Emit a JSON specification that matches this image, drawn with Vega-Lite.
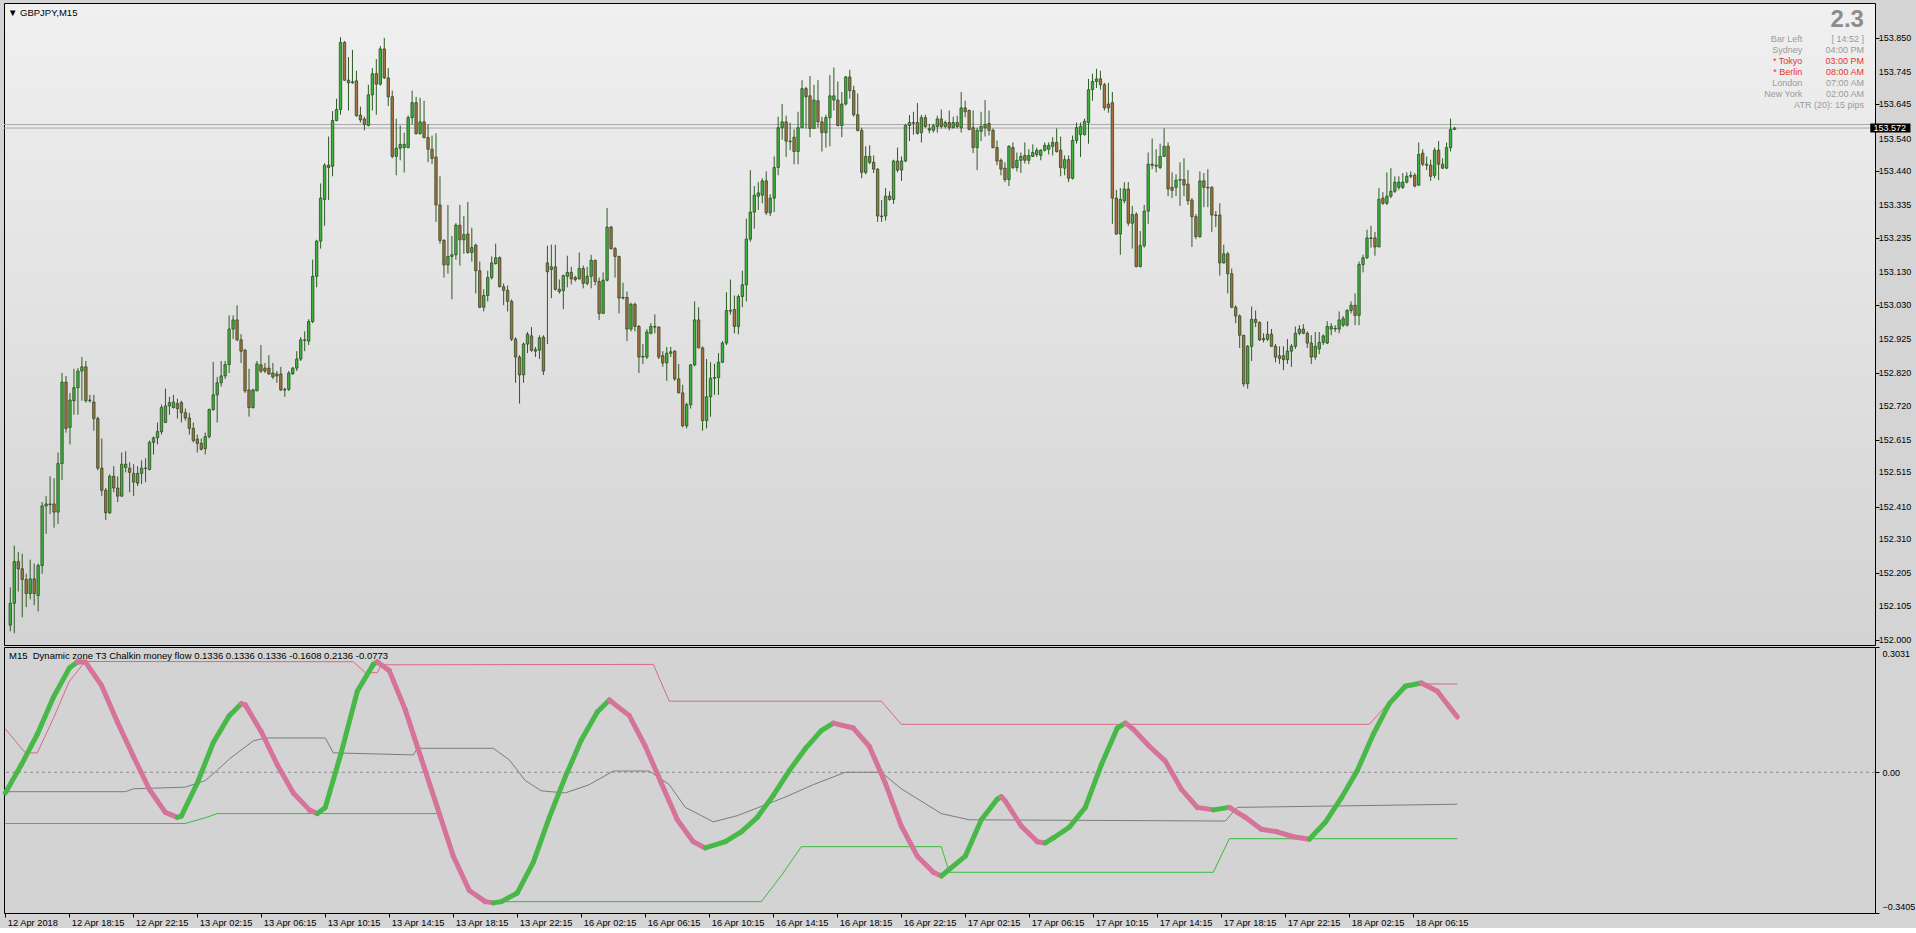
{
  "$schema": "https://vega.github.io/schema/vega-lite/v6.json",
  "padding": {"left": 2, "top": 2, "right": 0, "bottom": 0},
  "background": "#d4d4d4",
  "spacing": 2,
  "bounds": "flush",
  "config": {
    "font": "Liberation Sans",
    "view": {"stroke": "#000000", "strokeWidth": 1},
    "axis": {"labelFont": "Liberation Sans", "labelFontSize": 9, "labelColor": "#000000", "tickColor": "#000000", "domain": false, "grid": false, "tickSize": 4, "labelPadding": 3, "title": null, "labelOverlap": false},
    "title": {"font": "Liberation Sans", "fontSize": 9.5, "fontWeight": "normal", "color": "#000000", "anchor": "start", "frame": "group"}
  },
  "datasets": {
    "candles": [
{"i":0,"o":152.046,"h":152.162,"l":152.027,"c":152.113},
{"i":1,"o":152.113,"h":152.290,"l":152.021,"c":152.241},
{"i":2,"o":152.241,"h":152.271,"l":152.149,"c":152.219},
{"i":3,"o":152.219,"h":152.265,"l":152.070,"c":152.186},
{"i":4,"o":152.186,"h":152.204,"l":152.101,"c":152.143},
{"i":5,"o":152.143,"h":152.247,"l":152.125,"c":152.188},
{"i":6,"o":152.188,"h":152.235,"l":152.107,"c":152.143},
{"i":7,"o":152.137,"h":152.235,"l":152.088,"c":152.229},
{"i":8,"o":152.229,"h":152.424,"l":152.204,"c":152.412},
{"i":9,"o":152.412,"h":152.442,"l":152.326,"c":152.418},
{"i":10,"o":152.418,"h":152.503,"l":152.387,"c":152.416},
{"i":11,"o":152.418,"h":152.497,"l":152.345,"c":152.393},
{"i":12,"o":152.393,"h":152.576,"l":152.357,"c":152.542},
{"i":13,"o":152.542,"h":152.820,"l":152.491,"c":152.792},
{"i":14,"o":152.792,"h":152.811,"l":152.637,"c":152.650},
{"i":15,"o":152.653,"h":152.759,"l":152.601,"c":152.737},
{"i":16,"o":152.735,"h":152.833,"l":152.692,"c":152.775},
{"i":17,"o":152.775,"h":152.835,"l":152.692,"c":152.826},
{"i":18,"o":152.826,"h":152.869,"l":152.735,"c":152.839},
{"i":19,"o":152.839,"h":152.857,"l":152.729,"c":152.735},
{"i":20,"o":152.735,"h":152.753,"l":152.729,"c":152.737},
{"i":21,"o":152.731,"h":152.753,"l":152.643,"c":152.680},
{"i":22,"o":152.680,"h":152.686,"l":152.521,"c":152.528},
{"i":23,"o":152.528,"h":152.619,"l":152.442,"c":152.460},
{"i":24,"o":152.460,"h":152.467,"l":152.369,"c":152.391},
{"i":25,"o":152.391,"h":152.509,"l":152.387,"c":152.503},
{"i":26,"o":152.503,"h":152.534,"l":152.454,"c":152.467},
{"i":27,"o":152.467,"h":152.503,"l":152.424,"c":152.442},
{"i":28,"o":152.442,"h":152.576,"l":152.440,"c":152.540},
{"i":29,"o":152.530,"h":152.580,"l":152.515,"c":152.540},
{"i":30,"o":152.528,"h":152.546,"l":152.454,"c":152.515},
{"i":31,"o":152.512,"h":152.540,"l":152.442,"c":152.485},
{"i":32,"o":152.482,"h":152.534,"l":152.473,"c":152.512},
{"i":33,"o":152.512,"h":152.552,"l":152.479,"c":152.528},
{"i":34,"o":152.528,"h":152.558,"l":152.485,"c":152.527},
{"i":35,"o":152.524,"h":152.613,"l":152.521,"c":152.607},
{"i":36,"o":152.607,"h":152.625,"l":152.570,"c":152.621},
{"i":37,"o":152.621,"h":152.668,"l":152.601,"c":152.640},
{"i":38,"o":152.640,"h":152.723,"l":152.631,"c":152.714},
{"i":39,"o":152.668,"h":152.772,"l":152.668,"c":152.719},
{"i":40,"o":152.719,"h":152.747,"l":152.692,"c":152.729},
{"i":41,"o":152.714,"h":152.753,"l":152.711,"c":152.731},
{"i":42,"o":152.726,"h":152.741,"l":152.680,"c":152.711},
{"i":43,"o":152.729,"h":152.735,"l":152.668,"c":152.698},
{"i":44,"o":152.698,"h":152.711,"l":152.674,"c":152.682},
{"i":45,"o":152.682,"h":152.698,"l":152.631,"c":152.650},
{"i":46,"o":152.650,"h":152.668,"l":152.607,"c":152.613},
{"i":47,"o":152.617,"h":152.631,"l":152.576,"c":152.604},
{"i":48,"o":152.604,"h":152.619,"l":152.582,"c":152.586},
{"i":49,"o":152.588,"h":152.637,"l":152.570,"c":152.625},
{"i":50,"o":152.625,"h":152.711,"l":152.619,"c":152.708},
{"i":51,"o":152.708,"h":152.854,"l":152.704,"c":152.753},
{"i":52,"o":152.753,"h":152.808,"l":152.668,"c":152.790},
{"i":53,"o":152.790,"h":152.857,"l":152.778,"c":152.811},
{"i":54,"o":152.811,"h":152.857,"l":152.802,"c":152.846},
{"i":55,"o":152.846,"h":152.997,"l":152.820,"c":152.955},
{"i":56,"o":152.955,"h":152.997,"l":152.924,"c":152.983},
{"i":57,"o":152.983,"h":153.028,"l":152.918,"c":152.922},
{"i":58,"o":152.922,"h":152.939,"l":152.851,"c":152.887},
{"i":59,"o":152.890,"h":152.894,"l":152.759,"c":152.765},
{"i":60,"o":152.768,"h":152.833,"l":152.686,"c":152.714},
{"i":61,"o":152.714,"h":152.772,"l":152.711,"c":152.768},
{"i":62,"o":152.765,"h":152.857,"l":152.765,"c":152.848},
{"i":63,"o":152.845,"h":152.906,"l":152.820,"c":152.826},
{"i":64,"o":152.835,"h":152.851,"l":152.820,"c":152.826},
{"i":65,"o":152.835,"h":152.875,"l":152.814,"c":152.817},
{"i":66,"o":152.820,"h":152.851,"l":152.802,"c":152.808},
{"i":67,"o":152.817,"h":152.826,"l":152.790,"c":152.811},
{"i":68,"o":152.817,"h":152.839,"l":152.765,"c":152.768},
{"i":69,"o":152.768,"h":152.775,"l":152.747,"c":152.770},
{"i":70,"o":152.770,"h":152.826,"l":152.765,"c":152.820},
{"i":71,"o":152.818,"h":152.839,"l":152.814,"c":152.835},
{"i":72,"o":152.835,"h":152.887,"l":152.826,"c":152.863},
{"i":73,"o":152.863,"h":152.930,"l":152.857,"c":152.922},
{"i":74,"o":152.922,"h":152.948,"l":152.887,"c":152.920},
{"i":75,"o":152.918,"h":152.985,"l":152.906,"c":152.978},
{"i":76,"o":152.978,"h":153.168,"l":152.973,"c":153.117},
{"i":77,"o":153.117,"h":153.229,"l":153.083,"c":153.225},
{"i":78,"o":153.225,"h":153.402,"l":153.202,"c":153.357},
{"i":79,"o":153.353,"h":153.464,"l":153.272,"c":153.458},
{"i":80,"o":153.458,"h":153.546,"l":153.351,"c":153.451},
{"i":81,"o":153.455,"h":153.624,"l":153.424,"c":153.595},
{"i":82,"o":153.595,"h":153.662,"l":153.593,"c":153.629},
{"i":83,"o":153.629,"h":153.851,"l":153.613,"c":153.835},
{"i":84,"o":153.835,"h":153.839,"l":153.717,"c":153.719},
{"i":85,"o":153.719,"h":153.790,"l":153.626,"c":153.711},
{"i":86,"o":153.711,"h":153.812,"l":153.708,"c":153.714},
{"i":87,"o":153.717,"h":153.748,"l":153.607,"c":153.610},
{"i":88,"o":153.612,"h":153.638,"l":153.589,"c":153.597},
{"i":89,"o":153.600,"h":153.607,"l":153.565,"c":153.583},
{"i":90,"o":153.580,"h":153.705,"l":153.577,"c":153.674},
{"i":91,"o":153.674,"h":153.756,"l":153.626,"c":153.739},
{"i":92,"o":153.739,"h":153.784,"l":153.613,"c":153.707},
{"i":93,"o":153.707,"h":153.824,"l":153.702,"c":153.815},
{"i":94,"o":153.815,"h":153.849,"l":153.723,"c":153.726},
{"i":95,"o":153.726,"h":153.756,"l":153.640,"c":153.668},
{"i":96,"o":153.668,"h":153.687,"l":153.479,"c":153.485},
{"i":97,"o":153.485,"h":153.601,"l":153.427,"c":153.510},
{"i":98,"o":153.510,"h":153.580,"l":153.473,"c":153.522},
{"i":99,"o":153.512,"h":153.558,"l":153.436,"c":153.522},
{"i":100,"o":153.512,"h":153.611,"l":153.510,"c":153.604},
{"i":101,"o":153.604,"h":153.687,"l":153.583,"c":153.650},
{"i":102,"o":153.650,"h":153.668,"l":153.552,"c":153.555},
{"i":103,"o":153.555,"h":153.665,"l":153.552,"c":153.591},
{"i":104,"o":153.591,"h":153.656,"l":153.540,"c":153.543},
{"i":105,"o":153.543,"h":153.583,"l":153.467,"c":153.507},
{"i":106,"o":153.507,"h":153.549,"l":153.461,"c":153.479},
{"i":107,"o":153.483,"h":153.556,"l":153.284,"c":153.336},
{"i":108,"o":153.336,"h":153.424,"l":153.217,"c":153.227},
{"i":109,"o":153.227,"h":153.231,"l":153.113,"c":153.152},
{"i":110,"o":153.152,"h":153.336,"l":153.125,"c":153.178},
{"i":111,"o":153.178,"h":153.241,"l":153.046,"c":153.183},
{"i":112,"o":153.183,"h":153.280,"l":153.168,"c":153.274},
{"i":113,"o":153.274,"h":153.336,"l":153.150,"c":153.229},
{"i":114,"o":153.229,"h":153.302,"l":153.186,"c":153.245},
{"i":115,"o":153.247,"h":153.345,"l":153.186,"c":153.190},
{"i":116,"o":153.190,"h":153.266,"l":153.162,"c":153.205},
{"i":117,"o":153.213,"h":153.217,"l":153.064,"c":153.134},
{"i":118,"o":153.134,"h":153.162,"l":153.019,"c":153.022},
{"i":119,"o":153.022,"h":153.077,"l":153.009,"c":153.058},
{"i":120,"o":153.058,"h":153.134,"l":153.040,"c":153.113},
{"i":121,"o":153.113,"h":153.178,"l":153.107,"c":153.158},
{"i":122,"o":153.156,"h":153.217,"l":153.153,"c":153.174},
{"i":123,"o":153.174,"h":153.178,"l":153.083,"c":153.085},
{"i":124,"o":153.085,"h":153.095,"l":153.028,"c":153.074},
{"i":125,"o":153.074,"h":153.089,"l":153.009,"c":153.040},
{"i":126,"o":153.040,"h":153.046,"l":152.918,"c":152.924},
{"i":127,"o":152.924,"h":152.930,"l":152.790,"c":152.869},
{"i":128,"o":152.869,"h":152.875,"l":152.726,"c":152.814},
{"i":129,"o":152.814,"h":152.914,"l":152.790,"c":152.909},
{"i":130,"o":152.909,"h":152.946,"l":152.881,"c":152.939},
{"i":131,"o":152.934,"h":152.961,"l":152.885,"c":152.890},
{"i":132,"o":152.887,"h":152.900,"l":152.869,"c":152.892},
{"i":133,"o":152.890,"h":152.936,"l":152.863,"c":152.928},
{"i":134,"o":152.930,"h":152.936,"l":152.814,"c":152.826},
{"i":135,"o":153.158,"h":153.211,"l":152.909,"c":153.131},
{"i":136,"o":153.138,"h":153.214,"l":153.050,"c":153.146},
{"i":137,"o":153.146,"h":153.214,"l":153.073,"c":153.077},
{"i":138,"o":153.077,"h":153.107,"l":153.064,"c":153.070},
{"i":139,"o":153.073,"h":153.122,"l":153.016,"c":153.119},
{"i":140,"o":153.117,"h":153.180,"l":153.083,"c":153.129},
{"i":141,"o":153.129,"h":153.146,"l":153.092,"c":153.109},
{"i":142,"o":153.113,"h":153.119,"l":153.101,"c":153.107},
{"i":143,"o":153.109,"h":153.190,"l":153.107,"c":153.141},
{"i":144,"o":153.141,"h":153.150,"l":153.080,"c":153.095},
{"i":145,"o":153.095,"h":153.146,"l":153.089,"c":153.117},
{"i":146,"o":153.117,"h":153.183,"l":153.080,"c":153.166},
{"i":147,"o":153.166,"h":153.168,"l":153.089,"c":153.101},
{"i":148,"o":153.101,"h":153.113,"l":152.983,"c":153.003},
{"i":149,"o":153.003,"h":153.129,"l":153.003,"c":153.105},
{"i":150,"o":153.105,"h":153.327,"l":153.101,"c":153.268},
{"i":151,"o":153.268,"h":153.272,"l":153.199,"c":153.202},
{"i":152,"o":153.202,"h":153.207,"l":153.113,"c":153.178},
{"i":153,"o":153.178,"h":153.180,"l":153.003,"c":153.050},
{"i":154,"o":153.050,"h":153.097,"l":153.046,"c":153.052},
{"i":155,"o":153.052,"h":153.070,"l":152.918,"c":152.955},
{"i":156,"o":152.955,"h":153.036,"l":152.948,"c":153.031},
{"i":157,"o":153.031,"h":153.036,"l":152.948,"c":152.963},
{"i":158,"o":152.963,"h":152.967,"l":152.820,"c":152.869},
{"i":159,"o":152.869,"h":152.909,"l":152.848,"c":152.871},
{"i":160,"o":152.869,"h":152.955,"l":152.863,"c":152.946},
{"i":161,"o":152.942,"h":152.973,"l":152.939,"c":152.963},
{"i":162,"o":152.963,"h":153.000,"l":152.942,"c":152.961},
{"i":163,"o":152.961,"h":152.963,"l":152.863,"c":152.869},
{"i":164,"o":152.873,"h":152.887,"l":152.839,"c":152.851},
{"i":165,"o":152.851,"h":152.900,"l":152.796,"c":152.881},
{"i":166,"o":152.881,"h":152.900,"l":152.869,"c":152.885},
{"i":167,"o":152.887,"h":152.890,"l":152.796,"c":152.802},
{"i":168,"o":152.802,"h":152.848,"l":152.759,"c":152.759},
{"i":169,"o":152.759,"h":152.784,"l":152.653,"c":152.658},
{"i":170,"o":152.658,"h":152.729,"l":152.650,"c":152.723},
{"i":171,"o":152.723,"h":152.848,"l":152.711,"c":152.845},
{"i":172,"o":152.845,"h":153.040,"l":152.841,"c":152.983},
{"i":173,"o":152.983,"h":153.022,"l":152.897,"c":152.897},
{"i":174,"o":152.897,"h":152.902,"l":152.643,"c":152.674},
{"i":175,"o":152.674,"h":152.863,"l":152.650,"c":152.747},
{"i":176,"o":152.747,"h":152.853,"l":152.686,"c":152.804},
{"i":177,"o":152.804,"h":152.848,"l":152.753,"c":152.806},
{"i":178,"o":152.806,"h":152.881,"l":152.753,"c":152.853},
{"i":179,"o":152.853,"h":152.918,"l":152.851,"c":152.912},
{"i":180,"o":152.912,"h":153.068,"l":152.906,"c":153.012},
{"i":181,"o":153.012,"h":153.107,"l":153.000,"c":153.010},
{"i":182,"o":153.015,"h":153.058,"l":152.942,"c":152.963},
{"i":183,"o":152.963,"h":153.061,"l":152.939,"c":153.055},
{"i":184,"o":153.055,"h":153.134,"l":153.022,"c":153.091},
{"i":185,"o":153.091,"h":153.294,"l":153.040,"c":153.231},
{"i":186,"o":153.231,"h":153.443,"l":153.223,"c":153.314},
{"i":187,"o":153.314,"h":153.394,"l":153.263,"c":153.366},
{"i":188,"o":153.363,"h":153.406,"l":153.321,"c":153.373},
{"i":189,"o":153.366,"h":153.418,"l":153.341,"c":153.410},
{"i":190,"o":153.410,"h":153.439,"l":153.305,"c":153.312},
{"i":191,"o":153.312,"h":153.369,"l":153.302,"c":153.357},
{"i":192,"o":153.357,"h":153.485,"l":153.314,"c":153.451},
{"i":193,"o":153.451,"h":153.607,"l":153.427,"c":153.573},
{"i":194,"o":153.573,"h":153.646,"l":153.536,"c":153.591},
{"i":195,"o":153.591,"h":153.610,"l":153.483,"c":153.532},
{"i":196,"o":153.532,"h":153.588,"l":153.504,"c":153.530},
{"i":197,"o":153.544,"h":153.568,"l":153.461,"c":153.500},
{"i":198,"o":153.500,"h":153.622,"l":153.461,"c":153.573},
{"i":199,"o":153.573,"h":153.719,"l":153.573,"c":153.693},
{"i":200,"o":153.693,"h":153.699,"l":153.571,"c":153.668},
{"i":201,"o":153.671,"h":153.732,"l":153.544,"c":153.571},
{"i":202,"o":153.571,"h":153.705,"l":153.571,"c":153.658},
{"i":203,"o":153.656,"h":153.719,"l":153.573,"c":153.591},
{"i":204,"o":153.591,"h":153.607,"l":153.500,"c":153.558},
{"i":205,"o":153.558,"h":153.613,"l":153.512,"c":153.604},
{"i":206,"o":153.604,"h":153.735,"l":153.516,"c":153.671},
{"i":207,"o":153.658,"h":153.758,"l":153.626,"c":153.671},
{"i":208,"o":153.658,"h":153.715,"l":153.577,"c":153.580},
{"i":209,"o":153.580,"h":153.683,"l":153.544,"c":153.646},
{"i":210,"o":153.646,"h":153.732,"l":153.641,"c":153.729},
{"i":211,"o":153.729,"h":153.751,"l":153.662,"c":153.687},
{"i":212,"o":153.687,"h":153.702,"l":153.607,"c":153.613},
{"i":213,"o":153.613,"h":153.678,"l":153.561,"c":153.565},
{"i":214,"o":153.565,"h":153.573,"l":153.418,"c":153.436},
{"i":215,"o":153.436,"h":153.516,"l":153.430,"c":153.485},
{"i":216,"o":153.485,"h":153.519,"l":153.461,"c":153.467},
{"i":217,"o":153.467,"h":153.488,"l":153.434,"c":153.446},
{"i":218,"o":153.446,"h":153.449,"l":153.284,"c":153.302},
{"i":219,"o":153.302,"h":153.351,"l":153.284,"c":153.300},
{"i":220,"o":153.302,"h":153.388,"l":153.288,"c":153.363},
{"i":221,"o":153.363,"h":153.378,"l":153.349,"c":153.353},
{"i":222,"o":153.353,"h":153.475,"l":153.339,"c":153.471},
{"i":223,"o":153.471,"h":153.512,"l":153.436,"c":153.443},
{"i":224,"o":153.443,"h":153.485,"l":153.410,"c":153.471},
{"i":225,"o":153.471,"h":153.585,"l":153.467,"c":153.580},
{"i":226,"o":153.580,"h":153.612,"l":153.532,"c":153.589},
{"i":227,"o":153.589,"h":153.622,"l":153.552,"c":153.587},
{"i":228,"o":153.589,"h":153.649,"l":153.552,"c":153.556},
{"i":229,"o":153.558,"h":153.613,"l":153.528,"c":153.604},
{"i":230,"o":153.604,"h":153.613,"l":153.573,"c":153.577},
{"i":231,"o":153.570,"h":153.585,"l":153.556,"c":153.566},
{"i":232,"o":153.565,"h":153.585,"l":153.558,"c":153.579},
{"i":233,"o":153.577,"h":153.610,"l":153.558,"c":153.600},
{"i":234,"o":153.600,"h":153.629,"l":153.571,"c":153.577},
{"i":235,"o":153.577,"h":153.595,"l":153.571,"c":153.589},
{"i":236,"o":153.589,"h":153.626,"l":153.565,"c":153.573},
{"i":237,"o":153.573,"h":153.607,"l":153.571,"c":153.589},
{"i":238,"o":153.589,"h":153.610,"l":153.571,"c":153.577},
{"i":239,"o":153.573,"h":153.683,"l":153.558,"c":153.634},
{"i":240,"o":153.634,"h":153.656,"l":153.605,"c":153.622},
{"i":241,"o":153.626,"h":153.629,"l":153.565,"c":153.568},
{"i":242,"o":153.573,"h":153.626,"l":153.495,"c":153.512},
{"i":243,"o":153.512,"h":153.573,"l":153.443,"c":153.565},
{"i":244,"o":153.562,"h":153.622,"l":153.532,"c":153.577},
{"i":245,"o":153.573,"h":153.658,"l":153.546,"c":153.583},
{"i":246,"o":153.586,"h":153.626,"l":153.549,"c":153.565},
{"i":247,"o":153.565,"h":153.571,"l":153.510,"c":153.512},
{"i":248,"o":153.512,"h":153.534,"l":153.458,"c":153.471},
{"i":249,"o":153.473,"h":153.479,"l":153.427,"c":153.446},
{"i":250,"o":153.449,"h":153.467,"l":153.406,"c":153.414},
{"i":251,"o":153.414,"h":153.519,"l":153.394,"c":153.516},
{"i":252,"o":153.512,"h":153.528,"l":153.446,"c":153.451},
{"i":253,"o":153.451,"h":153.497,"l":153.439,"c":153.473},
{"i":254,"o":153.473,"h":153.497,"l":153.434,"c":153.485},
{"i":255,"o":153.488,"h":153.528,"l":153.463,"c":153.473},
{"i":256,"o":153.473,"h":153.507,"l":153.461,"c":153.488},
{"i":257,"o":153.485,"h":153.522,"l":153.483,"c":153.497},
{"i":258,"o":153.491,"h":153.512,"l":153.483,"c":153.504},
{"i":259,"o":153.488,"h":153.507,"l":153.473,"c":153.504},
{"i":260,"o":153.504,"h":153.528,"l":153.500,"c":153.519},
{"i":261,"o":153.507,"h":153.528,"l":153.491,"c":153.519},
{"i":262,"o":153.516,"h":153.544,"l":153.488,"c":153.528},
{"i":263,"o":153.528,"h":153.571,"l":153.497,"c":153.500},
{"i":264,"o":153.504,"h":153.546,"l":153.424,"c":153.451},
{"i":265,"o":153.449,"h":153.488,"l":153.427,"c":153.475},
{"i":266,"o":153.475,"h":153.488,"l":153.406,"c":153.418},
{"i":267,"o":153.418,"h":153.549,"l":153.414,"c":153.534},
{"i":268,"o":153.534,"h":153.589,"l":153.524,"c":153.573},
{"i":269,"o":153.552,"h":153.589,"l":153.483,"c":153.577},
{"i":270,"o":153.552,"h":153.601,"l":153.549,"c":153.593},
{"i":271,"o":153.589,"h":153.723,"l":153.524,"c":153.690},
{"i":272,"o":153.690,"h":153.739,"l":153.656,"c":153.715},
{"i":273,"o":153.715,"h":153.754,"l":153.695,"c":153.723},
{"i":274,"o":153.723,"h":153.748,"l":153.690,"c":153.705},
{"i":275,"o":153.705,"h":153.711,"l":153.626,"c":153.634},
{"i":276,"o":153.646,"h":153.711,"l":153.619,"c":153.634},
{"i":277,"o":153.650,"h":153.683,"l":153.278,"c":153.357},
{"i":278,"o":153.357,"h":153.382,"l":153.244,"c":153.247},
{"i":279,"o":153.247,"h":153.388,"l":153.183,"c":153.353},
{"i":280,"o":153.349,"h":153.406,"l":153.341,"c":153.385},
{"i":281,"o":153.385,"h":153.406,"l":153.272,"c":153.280},
{"i":282,"o":153.280,"h":153.333,"l":153.202,"c":153.307},
{"i":283,"o":153.307,"h":153.314,"l":153.144,"c":153.147},
{"i":284,"o":153.147,"h":153.256,"l":153.144,"c":153.211},
{"i":285,"o":153.211,"h":153.336,"l":153.205,"c":153.317},
{"i":286,"o":153.317,"h":153.497,"l":153.278,"c":153.461},
{"i":287,"o":153.461,"h":153.540,"l":153.446,"c":153.458},
{"i":288,"o":153.458,"h":153.507,"l":153.436,"c":153.455},
{"i":289,"o":153.451,"h":153.524,"l":153.446,"c":153.485},
{"i":290,"o":153.485,"h":153.571,"l":153.485,"c":153.516},
{"i":291,"o":153.516,"h":153.528,"l":153.363,"c":153.385},
{"i":292,"o":153.390,"h":153.436,"l":153.357,"c":153.381},
{"i":293,"o":153.390,"h":153.430,"l":153.363,"c":153.412},
{"i":294,"o":153.412,"h":153.467,"l":153.333,"c":153.414},
{"i":295,"o":153.414,"h":153.479,"l":153.363,"c":153.397},
{"i":296,"o":153.400,"h":153.443,"l":153.336,"c":153.349},
{"i":297,"o":153.351,"h":153.357,"l":153.207,"c":153.300},
{"i":298,"o":153.300,"h":153.308,"l":153.231,"c":153.239},
{"i":299,"o":153.239,"h":153.439,"l":153.235,"c":153.410},
{"i":300,"o":153.410,"h":153.434,"l":153.329,"c":153.390},
{"i":301,"o":153.390,"h":153.446,"l":153.329,"c":153.388},
{"i":302,"o":153.390,"h":153.394,"l":153.253,"c":153.305},
{"i":303,"o":153.305,"h":153.317,"l":153.268,"c":153.303},
{"i":304,"o":153.305,"h":153.341,"l":153.119,"c":153.158},
{"i":305,"o":153.158,"h":153.214,"l":153.156,"c":153.186},
{"i":306,"o":153.186,"h":153.192,"l":153.064,"c":153.125},
{"i":307,"o":153.125,"h":153.141,"l":153.019,"c":153.022},
{"i":308,"o":153.022,"h":153.028,"l":152.973,"c":152.995},
{"i":309,"o":152.995,"h":153.000,"l":152.897,"c":152.936},
{"i":310,"o":152.936,"h":152.936,"l":152.778,"c":152.787},
{"i":311,"o":152.787,"h":152.906,"l":152.772,"c":152.902},
{"i":312,"o":152.902,"h":153.024,"l":152.857,"c":152.985},
{"i":313,"o":152.985,"h":153.012,"l":152.961,"c":152.975},
{"i":314,"o":152.975,"h":152.979,"l":152.918,"c":152.922},
{"i":315,"o":152.926,"h":152.942,"l":152.914,"c":152.922},
{"i":316,"o":152.924,"h":152.979,"l":152.918,"c":152.939},
{"i":317,"o":152.939,"h":152.955,"l":152.900,"c":152.902},
{"i":318,"o":152.902,"h":152.909,"l":152.853,"c":152.869},
{"i":319,"o":152.865,"h":152.902,"l":152.848,"c":152.873},
{"i":320,"o":152.873,"h":152.902,"l":152.829,"c":152.861},
{"i":321,"o":152.861,"h":152.924,"l":152.848,"c":152.887},
{"i":322,"o":152.887,"h":152.909,"l":152.839,"c":152.902},
{"i":323,"o":152.902,"h":152.963,"l":152.894,"c":152.942},
{"i":324,"o":152.942,"h":152.967,"l":152.936,"c":152.955},
{"i":325,"o":152.955,"h":152.970,"l":152.939,"c":152.942},
{"i":326,"o":152.942,"h":152.948,"l":152.897,"c":152.912},
{"i":327,"o":152.912,"h":152.936,"l":152.848,"c":152.869},
{"i":328,"o":152.869,"h":152.946,"l":152.861,"c":152.902},
{"i":329,"o":152.894,"h":152.946,"l":152.878,"c":152.914},
{"i":330,"o":152.914,"h":152.939,"l":152.906,"c":152.934},
{"i":331,"o":152.912,"h":152.979,"l":152.909,"c":152.963},
{"i":332,"o":152.955,"h":152.973,"l":152.936,"c":152.963},
{"i":333,"o":152.957,"h":152.967,"l":152.946,"c":152.955},
{"i":334,"o":152.955,"h":153.009,"l":152.942,"c":152.983},
{"i":335,"o":152.967,"h":152.995,"l":152.961,"c":152.987},
{"i":336,"o":152.967,"h":153.016,"l":152.963,"c":153.012},
{"i":337,"o":153.012,"h":153.040,"l":153.003,"c":153.028},
{"i":338,"o":153.028,"h":153.064,"l":152.967,"c":152.997},
{"i":339,"o":152.997,"h":153.162,"l":152.967,"c":153.153},
{"i":340,"o":153.153,"h":153.183,"l":153.129,"c":153.174},
{"i":341,"o":153.174,"h":153.260,"l":153.170,"c":153.235},
{"i":342,"o":153.235,"h":153.272,"l":153.205,"c":153.233},
{"i":343,"o":153.235,"h":153.253,"l":153.180,"c":153.207},
{"i":344,"o":153.207,"h":153.388,"l":153.207,"c":153.353},
{"i":345,"o":153.357,"h":153.375,"l":153.336,"c":153.341},
{"i":346,"o":153.341,"h":153.436,"l":153.336,"c":153.363},
{"i":347,"o":153.363,"h":153.449,"l":153.357,"c":153.378},
{"i":348,"o":153.378,"h":153.424,"l":153.373,"c":153.406},
{"i":349,"o":153.390,"h":153.424,"l":153.382,"c":153.406},
{"i":350,"o":153.390,"h":153.434,"l":153.385,"c":153.406},
{"i":351,"o":153.406,"h":153.436,"l":153.402,"c":153.424},
{"i":352,"o":153.424,"h":153.439,"l":153.418,"c":153.427},
{"i":353,"o":153.427,"h":153.434,"l":153.390,"c":153.394},
{"i":354,"o":153.397,"h":153.528,"l":153.394,"c":153.491},
{"i":355,"o":153.495,"h":153.507,"l":153.455,"c":153.461},
{"i":356,"o":153.461,"h":153.485,"l":153.443,"c":153.458},
{"i":357,"o":153.458,"h":153.475,"l":153.410,"c":153.424},
{"i":358,"o":153.427,"h":153.512,"l":153.418,"c":153.504},
{"i":359,"o":153.504,"h":153.532,"l":153.412,"c":153.461},
{"i":360,"o":153.461,"h":153.479,"l":153.446,"c":153.449},
{"i":361,"o":153.449,"h":153.528,"l":153.446,"c":153.512},
{"i":362,"o":153.512,"h":153.601,"l":153.500,"c":153.568},
{"i":363,"o":153.568,"h":153.576,"l":153.566,"c":153.572}
    ],
    "levels": [{"name": "bid", "price": 153.572}, {"name": "ask", "price": 153.583}],
    "pticks": [{"p":152.000},{"p":152.105},{"p":152.205},{"p":152.310},{"p":152.410},{"p":152.515},{"p":152.615},{"p":152.720},{"p":152.820},{"p":152.925},{"p":153.030},{"p":153.130},{"p":153.235},{"p":153.335},{"p":153.440},{"p":153.540},{"p":153.645},{"p":153.745},{"p":153.850}],
    "info": [
      {"line": -0.7, "kind": "big", "label": "", "value": "2.3", "alert": false},
      {"line": 1, "kind": "row", "label": "Bar Left", "value": "[ 14:52 ]", "alert": false},
      {"line": 2, "kind": "row", "label": "Sydney", "value": "04:00 PM", "alert": false},
      {"line": 3, "kind": "row", "label": "* Tokyo", "value": "03:00 PM", "alert": true},
      {"line": 4, "kind": "row", "label": "* Berlin", "value": "08:00 AM", "alert": true},
      {"line": 5, "kind": "row", "label": "London", "value": "07:00 AM", "alert": false},
      {"line": 6, "kind": "row", "label": "New York", "value": "02:00 AM", "alert": false},
      {"line": 7, "kind": "row", "label": "", "value": "ATR (20): 15 pips", "alert": false}
    ],
    "osc": [
{"i":0,"v":-0.050},{"i":4,"v":0.018},{"i":8,"v":0.092},{"i":12,"v":0.181},{"i":16,"v":0.252},{"i":18,"v":0.267},{"i":20,"v":0.267},{"i":24,"v":0.211},{"i":28,"v":0.122},{"i":32,"v":0.039},{"i":36,"v":-0.041},{"i":40,"v":-0.097},{"i":43,"v":-0.109},{"i":44,"v":-0.106},{"i":48,"v":-0.026},{"i":52,"v":0.072},{"i":56,"v":0.137},{"i":59,"v":0.166},{"i":60,"v":0.163},{"i":64,"v":0.098},{"i":68,"v":0.018},{"i":72,"v":-0.050},{"i":76,"v":-0.091},{"i":78,"v":-0.100},{"i":80,"v":-0.085},{"i":84,"v":0.048},{"i":88,"v":0.196},{"i":92,"v":0.261},{"i":93,"v":0.267},{"i":96,"v":0.246},{"i":100,"v":0.151},{"i":104,"v":0.033},{"i":108,"v":-0.085},{"i":112,"v":-0.203},{"i":116,"v":-0.286},{"i":120,"v":-0.313},{"i":122,"v":-0.316},{"i":124,"v":-0.313},{"i":128,"v":-0.292},{"i":132,"v":-0.218},{"i":136,"v":-0.109},{"i":140,"v":-0.011},{"i":144,"v":0.078},{"i":148,"v":0.146},{"i":151,"v":0.175},{"i":156,"v":0.137},{"i":160,"v":0.063},{"i":164,"v":-0.026},{"i":168,"v":-0.115},{"i":172,"v":-0.168},{"i":175,"v":-0.183},{"i":180,"v":-0.168},{"i":184,"v":-0.144},{"i":188,"v":-0.109},{"i":192,"v":-0.056},{"i":196,"v":0.004},{"i":200,"v":0.057},{"i":204,"v":0.101},{"i":207,"v":0.119},{"i":212,"v":0.107},{"i":216,"v":0.063},{"i":220,"v":-0.026},{"i":224,"v":-0.130},{"i":228,"v":-0.203},{"i":232,"v":-0.242},{"i":234,"v":-0.251},{"i":240,"v":-0.203},{"i":244,"v":-0.115},{"i":248,"v":-0.065},{"i":249,"v":-0.059},{"i":250,"v":-0.070},{"i":254,"v":-0.130},{"i":258,"v":-0.168},{"i":260,"v":-0.171},{"i":262,"v":-0.159},{"i":266,"v":-0.133},{"i":270,"v":-0.085},{"i":274,"v":0.018},{"i":278,"v":0.107},{"i":280,"v":0.119},{"i":282,"v":0.104},{"i":286,"v":0.063},{"i":290,"v":0.027},{"i":294,"v":-0.041},{"i":298,"v":-0.085},{"i":302,"v":-0.091},{"i":306,"v":-0.085},{"i":310,"v":-0.109},{"i":314,"v":-0.138},{"i":318,"v":-0.144},{"i":322,"v":-0.156},{"i":326,"v":-0.162},{"i":330,"v":-0.121},{"i":334,"v":-0.062},{"i":338,"v":0.004},{"i":342,"v":0.092},{"i":346,"v":0.166},{"i":350,"v":0.208},{"i":354,"v":0.216},{"i":358,"v":0.196},{"i":363,"v":0.1336}
    ],
    "zones": [
{"z":"up","i":0,"v":0.105},{"z":"up","i":5,"v":0.047},{"z":"up","i":8,"v":0.047},{"z":"up","i":12,"v":0.13},{"z":"up","i":16,"v":0.22},{"z":"up","i":20,"v":0.268},{"z":"up","i":87,"v":0.2675},{"z":"up","i":90,"v":0.241},{"z":"up","i":93,"v":0.241},{"z":"up","i":94,"v":0.26},{"z":"up","i":162,"v":0.261},{"z":"up","i":166,"v":0.172},{"z":"up","i":219,"v":0.172},{"z":"up","i":224,"v":0.116},{"z":"up","i":341,"v":0.116},{"z":"up","i":346,"v":0.17},{"z":"up","i":350,"v":0.2136},{"z":"up","i":363,"v":0.2136},
{"z":"dn","i":0,"v":-0.124},{"z":"dn","i":45,"v":-0.124},{"z":"dn","i":50,"v":-0.11},{"z":"dn","i":53,"v":-0.1},{"z":"dn","i":108,"v":-0.1},{"z":"dn","i":112,"v":-0.203},{"z":"dn","i":116,"v":-0.286},{"z":"dn","i":120,"v":-0.313},{"z":"dn","i":189,"v":-0.313},{"z":"dn","i":194,"v":-0.25},{"z":"dn","i":199,"v":-0.18},{"z":"dn","i":234,"v":-0.18},{"z":"dn","i":236,"v":-0.242},{"z":"dn","i":302,"v":-0.242},{"z":"dn","i":306,"v":-0.1608},{"z":"dn","i":363,"v":-0.1608},
{"z":"mid","i":0,"v":-0.047},{"z":"mid","i":30,"v":-0.047},{"z":"mid","i":32,"v":-0.04},{"z":"mid","i":45,"v":-0.036},{"z":"mid","i":50,"v":-0.02},{"z":"mid","i":53,"v":0.005},{"z":"mid","i":56,"v":0.032},{"z":"mid","i":62,"v":0.076},{"z":"mid","i":65,"v":0.083},{"z":"mid","i":80,"v":0.083},{"z":"mid","i":82,"v":0.047},{"z":"mid","i":102,"v":0.042},{"z":"mid","i":103,"v":0.058},{"z":"mid","i":122,"v":0.058},{"z":"mid","i":126,"v":0.03},{"z":"mid","i":130,"v":-0.02},{"z":"mid","i":134,"v":-0.045},{"z":"mid","i":140,"v":-0.05},{"z":"mid","i":146,"v":-0.03},{"z":"mid","i":152,"v":0.003},{"z":"mid","i":161,"v":0.003},{"z":"mid","i":166,"v":-0.03},{"z":"mid","i":170,"v":-0.085},{"z":"mid","i":177,"v":-0.12},{"z":"mid","i":183,"v":-0.105},{"z":"mid","i":195,"v":-0.06},{"z":"mid","i":202,"v":-0.03},{"z":"mid","i":210,"v":0.0},{"z":"mid","i":219,"v":0.0},{"z":"mid","i":224,"v":-0.04},{"z":"mid","i":234,"v":-0.1},{"z":"mid","i":241,"v":-0.115},{"z":"mid","i":305,"v":-0.118},{"z":"mid","i":308,"v":-0.085},{"z":"mid","i":363,"v":-0.0773}
    ],
    "zero": [{"level": 0}]
  },
  "vconcat": [
    {
      "width": 1871,
      "height": 642,
      "view": {"fill": {"gradient": "linear", "x1": 0, "y1": 0, "x2": 0, "y2": 1, "stops": [{"offset": 0, "color": "#f0f0f0"}, {"offset": 1, "color": "#d3d3d3"}]}, "stroke": "#000000"},
      "title": {"text": "▼ GBPJPY,M15", "offset": -14, "dx": 4},
      "layer": [
        {
          "layer": [
            {
              "data": {"name": "levels"},
              "mark": {"type": "rule", "color": "#a8a8a8", "strokeWidth": 1},
              "encoding": {
                "y": {"field": "price", "type": "quantitative", "scale": {"domain": [151.985, 153.956], "nice": false, "zero": false},
                  "axis": {"orient": "right", "values": [152.0, 152.105, 152.205, 152.31, 152.41, 152.515, 152.615, 152.72, 152.82, 152.925, 153.03, 153.13, 153.235, 153.335, 153.44, 153.54, 153.645, 153.745, 153.85], "labels": false}}
              }
            },
            {
              "data": {"name": "candles"},
              "mark": {"type": "rule", "color": "#2f5a26", "strokeWidth": 1},
              "encoding": {
                "x": {"field": "i", "type": "quantitative", "scale": {"domain": [-0.325, 467.425], "nice": false, "zero": false}, "axis": null},
                "y": {"field": "l", "type": "quantitative"},
                "y2": {"field": "h"}
              }
            },
            {
              "data": {"name": "candles"},
              "mark": {"type": "bar", "width": 2.4, "stroke": "#2e4a22", "strokeWidth": 0.8},
              "encoding": {
                "x": {"field": "i", "type": "quantitative"},
                "y": {"field": "o", "type": "quantitative"},
                "y2": {"field": "c"},
                "fill": {"condition": {"test": "datum.c >= datum.o", "value": "#3cb43c"}, "value": "#a87040"}
              }
            },
            {
              "data": {"name": "pticks"},
              "mark": {"type": "text", "align": "left", "baseline": "middle", "fontSize": 9, "font": "Liberation Sans", "color": "#000000"},
              "encoding": {
                "x": {"datum": 469.6, "type": "quantitative"},
                "y": {"field": "p", "type": "quantitative"},
                "text": {"field": "p", "type": "quantitative", "format": ".3f"}
              }
            },
            {
              "data": {"name": "levels"},
              "transform": [{"filter": "datum.name == 'bid'"}],
              "mark": {"type": "rule", "color": "#000000", "strokeWidth": 9, "strokeCap": "butt"},
              "encoding": {
                "x": {"datum": 467.5, "type": "quantitative"},
                "x2": {"datum": 477.6},
                "y": {"field": "price", "type": "quantitative"}
              }
            },
            {
              "data": {"name": "levels"},
              "transform": [{"filter": "datum.name == 'bid'"}],
              "mark": {"type": "text", "color": "#ffffff", "align": "left", "baseline": "middle", "fontSize": 9, "font": "Liberation Sans"},
              "encoding": {
                "x": {"datum": 468.3, "type": "quantitative"},
                "y": {"field": "price", "type": "quantitative"},
                "text": {"field": "price", "type": "quantitative", "format": ".3f"}
              }
            }
          ]
        },
        {
          "data": {"name": "info"},
          "encoding": {
            "y": {"field": "line", "type": "quantitative", "scale": {"domain": [-2.273, 56.09], "reverse": true, "nice": false, "zero": false}, "axis": null}
          },
          "layer": [
            {
              "transform": [{"filter": "datum.kind == 'big'"}],
              "mark": {"type": "text", "align": "right", "baseline": "middle", "fontSize": 24, "fontWeight": "bold", "font": "Liberation Sans", "color": "#8c8c8c"},
              "encoding": {"x": {"datum": 465.9, "type": "quantitative"}, "text": {"field": "value"}}
            },
            {
              "transform": [{"filter": "datum.kind == 'row'"}],
              "mark": {"type": "text", "align": "right", "baseline": "middle", "fontSize": 9, "font": "Liberation Sans"},
              "encoding": {"x": {"datum": 450.4, "type": "quantitative"}, "text": {"field": "label"},
                "color": {"condition": {"test": "datum.alert", "value": "#e8302c"}, "value": "#9a9a9a"}}
            },
            {
              "transform": [{"filter": "datum.kind == 'row'"}],
              "mark": {"type": "text", "align": "right", "baseline": "middle", "fontSize": 9, "font": "Liberation Sans"},
              "encoding": {"x": {"datum": 465.9, "type": "quantitative"}, "text": {"field": "value"},
                "color": {"condition": {"test": "datum.alert", "value": "#e8302c"}, "value": "#9a9a9a"}}
            }
          ]
        }
      ],
      "resolve": {"scale": {"y": "independent"}}
    },
    {
      "width": 1871,
      "height": 266,
      "view": {"fill": "#d3d3d3", "stroke": "#000000"},
      "title": {"text": "M15\u00a0 Dynamic zone T3 Chalkin money flow 0.1336 0.1336 0.1336 -0.1608 0.2136 -0.0773", "offset": -14, "dx": 5},
      "layer": [
        {
          "data": {"name": "zero"},
          "mark": {"type": "rule", "color": "#8a8a8a", "strokeWidth": 1, "strokeDash": [3, 3]},
          "encoding": {
            "y": {"field": "level", "type": "quantitative", "scale": {"domain": [-0.3405, 0.3031], "nice": false, "zero": false},
              "axis": {"orient": "right", "values": [0.3031, 0, -0.3405], "labelFlush": false, "labelBaseline": "middle",
                "labelOffset": {"condition": [{"test": "datum.value > 0.3", "value": 6}, {"test": "datum.value < -0.3", "value": -6.5}], "value": 0},
                "labelExpr": "datum.value == 0 ? '0.00' : format(datum.value, '.4f')"}}
          }
        },
        {
          "data": {"name": "zones"},
          "mark": {"type": "line", "strokeWidth": 1, "interpolate": "linear"},
          "encoding": {
            "x": {"field": "i", "type": "quantitative", "scale": {"domain": [-0.325, 467.425], "nice": false, "zero": false},
              "axis": {"orient": "bottom", "values": [0, 16, 32, 48, 64, 80, 96, 112, 128, 144, 160, 176, 192, 208, 224, 240, 256, 272, 288, 304, 320, 336, 352],
                "labelAlign": "left", "labelOffset": 2, "labelPadding": 1, "labelBaseline": "top", "labelFontSize": 9.3,
                "labelExpr": "['12 Apr 2018','12 Apr 18:15','12 Apr 22:15','13 Apr 02:15','13 Apr 06:15','13 Apr 10:15','13 Apr 14:15','13 Apr 18:15','13 Apr 22:15','16 Apr 02:15','16 Apr 06:15','16 Apr 10:15','16 Apr 14:15','16 Apr 18:15','16 Apr 22:15','17 Apr 02:15','17 Apr 06:15','17 Apr 10:15','17 Apr 14:15','17 Apr 18:15','17 Apr 22:15','18 Apr 02:15','18 Apr 06:15'][round(datum.value / 16)]"}},
            "y": {"field": "v", "type": "quantitative"},
            "color": {"field": "z", "type": "nominal", "scale": {"domain": ["up", "dn", "mid"], "range": ["#d8688a", "#3cba3c", "#7c7c7c"]}, "legend": null},
            "order": {"field": "i", "type": "quantitative"}
          }
        },
        {
          "data": {"name": "osc"},
          "transform": [
            {"window": [{"op": "lead", "field": "v", "as": "vn"}, {"op": "lead", "field": "i", "as": "inext"}], "sort": [{"field": "i", "order": "ascending"}]},
            {"filter": "datum.inext != null"}
          ],
          "mark": {"type": "rule", "strokeWidth": 5, "strokeCap": "round"},
          "encoding": {
            "x": {"field": "i", "type": "quantitative"},
            "x2": {"field": "inext"},
            "y": {"field": "v", "type": "quantitative"},
            "y2": {"field": "vn"},
            "color": {"condition": {"test": "datum.vn > datum.v", "value": "#48b848"}, "value": "#d5739a"}
          }
        }
      ]
    }
  ]
}
